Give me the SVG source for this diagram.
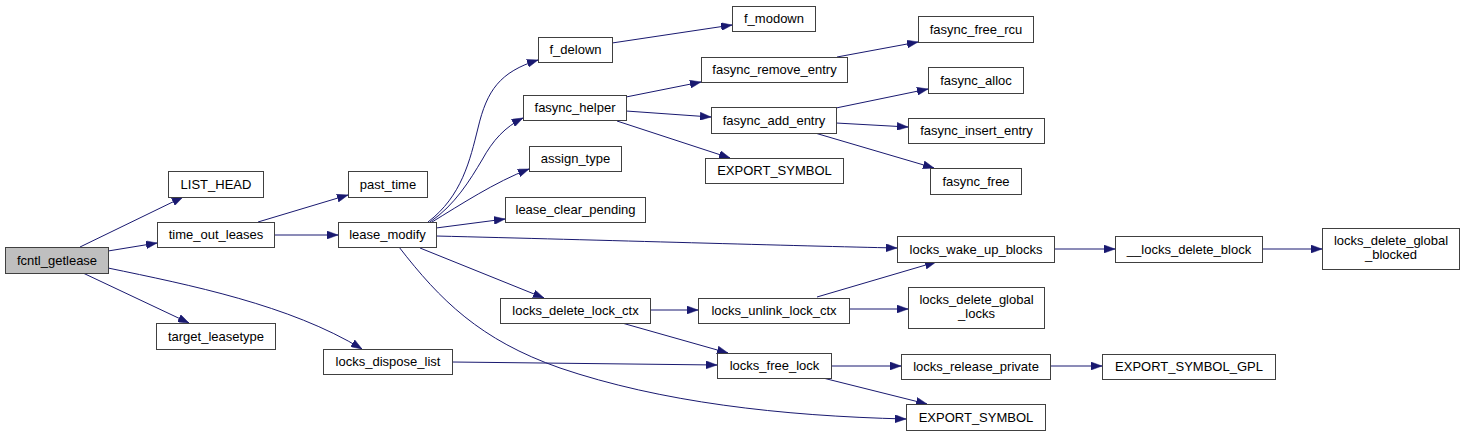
<svg xmlns="http://www.w3.org/2000/svg" width="1464" height="436" viewBox="0 0 1464 436">
<style>
.n rect{fill:#ffffff;stroke:#404040;stroke-width:1}
.n.root rect{fill:#bfbfbf}
.n text{font-family:"Liberation Sans",Arial,sans-serif;font-size:13px;fill:#000;text-anchor:middle}
#edges path{fill:none;stroke:#191970;stroke-width:1;marker-end:url(#ah)}
</style>
<defs>
<marker id="ah" viewBox="0 0 11 8" refX="11" refY="4" markerWidth="11" markerHeight="8" markerUnits="userSpaceOnUse" orient="auto">
<path d="M0,0 L11,4 L0,8 z" fill="#191970" stroke="#191970" stroke-width="0.5"/>
</marker>
</defs>
<rect width="1464" height="436" fill="#ffffff"/>
<g id="edges">
<path d="M80,247 L183,197"/>
<path d="M108,251 L157,243"/>
<path d="M83,273 L189,323"/>
<path d="M108,268 C190,285 290,305 362,349"/>
<path d="M258,222 L348,195"/>
<path d="M274,235 L338,235"/>
<path d="M428,222 C462,196 470,160 478,128 C487,90 500,72 538,60"/>
<path d="M430,222 C455,205 470,180 482,160 C493,140 505,127 523,118"/>
<path d="M432,222 C460,205 495,182 529,169"/>
<path d="M436,228 L505,219"/>
<path d="M436,236 C600,240 800,246 897,248"/>
<path d="M420,248 L544,298"/>
<path d="M399,247 C440,300 480,340 560,368 C660,402 780,416 906,419"/>
<path d="M612,43 L732,25"/>
<path d="M626,97 L701,82"/>
<path d="M626,111 L711,117"/>
<path d="M617,121 L730,158"/>
<path d="M837,57 L918,42"/>
<path d="M836,108 L928,89"/>
<path d="M836,123 L908,127"/>
<path d="M815,133 L934,168"/>
<path d="M1054,249 L1115,249"/>
<path d="M1262,249 L1322,249"/>
<path d="M650,310 L698,310"/>
<path d="M622,323 L728,353"/>
<path d="M817,297 L936,262"/>
<path d="M849,309 L908,309"/>
<path d="M452,362 L717,365"/>
<path d="M831,366 L901,366"/>
<path d="M823,378 L927,404"/>
<path d="M1050,366 L1102,366"/>
</g>
<g id="fcntl_getlease" class="n root"><rect x="5.5" y="247.5" width="103" height="26"/><text x="57" y="264.5">fcntl_getlease</text></g>
<g id="LIST_HEAD" class="n"><rect x="168.5" y="171.5" width="95" height="26"/><text x="216" y="188.5">LIST_HEAD</text></g>
<g id="time_out_leases" class="n"><rect x="157.5" y="222.5" width="117" height="25"/><text x="216" y="239">time_out_leases</text></g>
<g id="target_leasetype" class="n"><rect x="156.5" y="323.5" width="119" height="26"/><text x="216" y="340.5">target_leasetype</text></g>
<g id="past_time" class="n"><rect x="348.5" y="171.5" width="79" height="26"/><text x="388" y="188.5">past_time</text></g>
<g id="lease_modify" class="n"><rect x="338.5" y="222.5" width="98" height="25"/><text x="387.5" y="239">lease_modify</text></g>
<g id="locks_dispose_list" class="n"><rect x="323.5" y="349.5" width="129" height="25"/><text x="388" y="366">locks_dispose_list</text></g>
<g id="f_delown" class="n"><rect x="538.5" y="37.5" width="74" height="25"/><text x="575.5" y="54">f_delown</text></g>
<g id="fasync_helper" class="n"><rect x="523.5" y="95.5" width="103" height="25"/><text x="575" y="112">fasync_helper</text></g>
<g id="assign_type" class="n"><rect x="529.5" y="146.5" width="92" height="25"/><text x="575.5" y="163">assign_type</text></g>
<g id="lease_clear_pending" class="n"><rect x="505.5" y="197.5" width="140" height="25"/><text x="575.5" y="214">lease_clear_pending</text></g>
<g id="locks_delete_lock_ctx" class="n"><rect x="500.5" y="298.5" width="150" height="25"/><text x="575.5" y="315">locks_delete_lock_ctx</text></g>
<g id="f_modown" class="n"><rect x="732.5" y="6.5" width="83" height="25"/><text x="774" y="23">f_modown</text></g>
<g id="fasync_remove_entry" class="n"><rect x="701.5" y="57.5" width="146" height="25"/><text x="774.5" y="74">fasync_remove_entry</text></g>
<g id="fasync_add_entry" class="n"><rect x="711.5" y="107.5" width="125" height="26"/><text x="774" y="124.5">fasync_add_entry</text></g>
<g id="EXPORT_SYMBOL_1" class="n"><rect x="705.5" y="158.5" width="138" height="25"/><text x="774.5" y="175">EXPORT_SYMBOL</text></g>
<g id="locks_unlink_lock_ctx" class="n"><rect x="698.5" y="298.5" width="151" height="25"/><text x="774" y="315">locks_unlink_lock_ctx</text></g>
<g id="locks_free_lock" class="n"><rect x="717.5" y="353.5" width="114" height="25"/><text x="774.5" y="370">locks_free_lock</text></g>
<g id="fasync_free_rcu" class="n"><rect x="918.5" y="16.5" width="115" height="26"/><text x="976" y="33.5">fasync_free_rcu</text></g>
<g id="fasync_alloc" class="n"><rect x="928.5" y="67.5" width="95" height="26"/><text x="976" y="84.5">fasync_alloc</text></g>
<g id="fasync_insert_entry" class="n"><rect x="908.5" y="118.5" width="136" height="25"/><text x="976.5" y="135">fasync_insert_entry</text></g>
<g id="fasync_free" class="n"><rect x="930.5" y="168.5" width="91" height="26"/><text x="976" y="185.5">fasync_free</text></g>
<g id="locks_wake_up_blocks" class="n"><rect x="897.5" y="236.5" width="157" height="26"/><text x="976" y="253.5">locks_wake_up_blocks</text></g>
<g id="locks_delete_global_locks" class="n"><rect x="908.5" y="287.5" width="136" height="41"/><text x="976.5" y="304">locks_delete_global</text><text x="976.5" y="318">_locks</text></g>
<g id="locks_release_private" class="n"><rect x="901.5" y="354.5" width="149" height="25"/><text x="976" y="371">locks_release_private</text></g>
<g id="EXPORT_SYMBOL_2" class="n"><rect x="906.5" y="404.5" width="139" height="26"/><text x="976" y="421.5">EXPORT_SYMBOL</text></g>
<g id="__locks_delete_block" class="n"><rect x="1115.5" y="236.5" width="147" height="26"/><text x="1189" y="253.5">__locks_delete_block</text></g>
<g id="EXPORT_SYMBOL_GPL" class="n"><rect x="1102.5" y="354.5" width="173" height="25"/><text x="1189" y="371">EXPORT_SYMBOL_GPL</text></g>
<g id="locks_delete_global_blocked" class="n"><rect x="1322.5" y="228.5" width="137" height="41"/><text x="1391" y="245">locks_delete_global</text><text x="1391" y="259">_blocked</text></g>
</svg>
